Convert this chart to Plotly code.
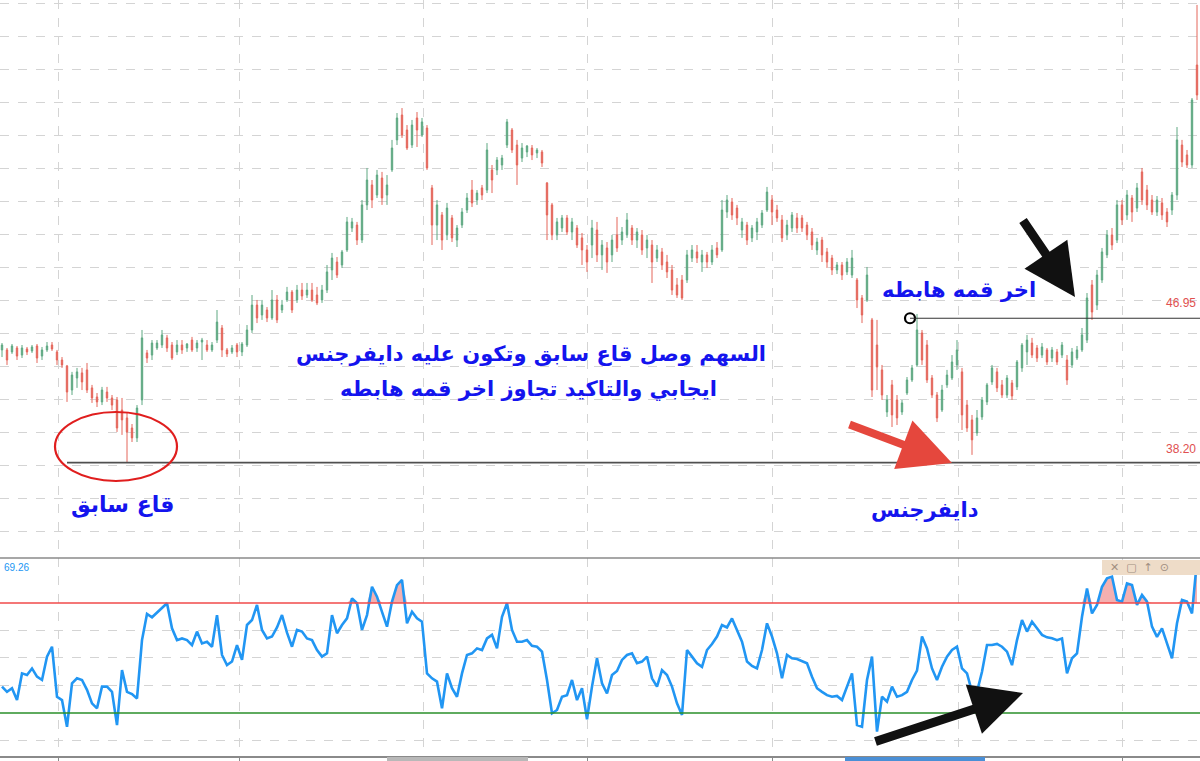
import plotly.graph_objects as go
import numpy as np

W, H = 1200, 761

# ---------------- data ----------------
opens = [
45.03, 45.03, 44.91, 45.15, 44.72, 45.09, 44.97, 45.27, 44.66, 45.03,
45.33, 44.91, 44.42, 44.06, 42.60, 43.33, 43.64, 43.82, 42.73, 42.18,
41.88, 42.48, 42.12, 42.00, 41.39, 40.91, 40.30, 39.70, 42.00, 44.85,
44.72, 45.15, 45.33, 45.76, 45.33, 44.91, 45.33, 45.15, 45.63, 45.15,
45.51, 45.33, 45.03, 45.63, 46.36, 45.03, 44.91, 45.33, 44.91, 45.33,
46.24, 47.75, 47.15, 47.45, 46.97, 48.06, 47.45, 48.06, 48.54, 48.06,
48.66, 48.36, 48.66, 48.36, 48.06, 48.66, 49.88, 50.36, 50.18, 51.09,
52.42, 52.60, 51.69, 53.82, 55.03, 54.42, 55.45, 54.42, 55.94, 57.76,
59.27, 58.36, 57.45, 59.09, 58.06, 58.48, 54.85, 52.60, 53.21, 52.00,
53.03, 51.69, 52.60, 53.51, 54.72, 54.12, 54.85, 54.72, 55.94, 55.94,
56.24, 57.45, 58.36, 57.45, 56.66, 57.03, 57.27, 56.97, 57.03, 55.15,
53.82, 52.00, 52.42, 53.03, 52.18, 52.42, 51.82, 51.09, 51.39, 52.30,
50.79, 51.21, 50.79, 52.00, 51.69, 52.00, 52.42, 51.69, 52.00, 51.21,
51.39, 50.60, 50.97, 50.36, 49.88, 48.97, 49.27, 49.27, 50.60, 50.97,
50.36, 50.79, 50.36, 51.21, 51.09, 53.39, 54.00, 53.63, 52.30, 52.60,
51.82, 52.18, 52.60, 53.51, 54.12, 53.51, 52.91, 52.00, 52.42, 53.03,
53.03, 52.60, 52.18, 51.09, 51.69, 50.97, 50.60, 49.88, 50.18, 49.76,
49.57, 49.27, 48.18, 48.06, 46.85, 45.33, 43.82, 41.27, 42.91, 42.00,
41.27, 42.42, 43.21, 44.12, 46.06, 45.33, 43.33, 42.30, 41.39, 42.91,
43.33, 44.12, 43.70, 41.69, 40.79, 40.00, 40.97, 41.88, 43.09, 43.70,
42.91, 42.30, 43.03, 42.79, 43.94, 44.91, 45.45, 45.15, 44.72, 45.03,
44.54, 44.91, 44.72, 44.42, 44.12, 44.54, 45.03, 45.63, 48.97, 47.75,
49.27, 50.79, 52.00, 51.69, 53.82, 53.21, 54.24, 53.63, 55.82, 54.72,
54.12, 53.39, 53.94, 53.39, 53.51, 54.42, 57.45, 56.85, 56.24, 62.30,
]
highs = [
45.45, 45.15, 45.39, 45.27, 45.33, 45.21, 45.33, 45.39, 45.21, 45.51,
45.51, 45.03, 44.60, 44.12, 43.70, 43.94, 43.94, 44.24, 42.91, 42.42,
42.79, 42.79, 42.30, 42.18, 42.12, 41.27, 40.54, 41.69, 46.24, 45.03,
45.63, 45.63, 46.24, 45.94, 45.51, 45.63, 45.63, 45.45, 45.82, 45.63,
45.76, 45.63, 45.51, 47.45, 46.54, 45.15, 45.33, 45.45, 45.51, 46.54,
48.36, 48.06, 48.06, 47.63, 48.66, 48.36, 48.06, 48.85, 48.66, 48.97,
49.09, 49.09, 49.09, 48.85, 48.97, 50.18, 50.91, 50.66, 51.09, 53.09,
53.03, 52.79, 54.12, 56.06, 55.33, 55.94, 55.82, 55.63, 57.76, 59.39,
59.69, 58.66, 58.97, 59.45, 59.09, 58.66, 55.03, 54.12, 53.39, 53.94,
53.21, 52.60, 53.63, 54.54, 55.33, 54.72, 55.03, 57.57, 56.24, 56.72,
56.85, 59.03, 58.48, 57.76, 57.57, 57.45, 57.45, 57.27, 57.15, 55.21,
53.94, 53.03, 53.21, 53.21, 53.03, 52.60, 52.12, 51.39, 52.91, 52.79,
51.69, 51.57, 52.00, 53.09, 52.48, 53.33, 52.60, 52.42, 52.30, 52.00,
51.69, 51.39, 51.21, 50.79, 50.18, 49.39, 49.57, 51.09, 51.39, 51.39,
51.09, 50.97, 51.39, 51.57, 54.12, 54.42, 54.24, 53.82, 53.03, 52.79,
52.60, 53.03, 53.51, 54.91, 54.42, 53.82, 53.21, 52.91, 53.39, 53.33,
53.21, 52.79, 52.42, 51.82, 51.88, 51.21, 50.79, 50.36, 50.36, 50.60,
51.09, 49.39, 48.36, 50.06, 46.97, 46.85, 44.12, 42.30, 43.21, 42.30,
42.00, 43.39, 44.12, 47.21, 46.24, 45.63, 43.51, 42.48, 42.91, 43.82,
44.72, 45.63, 43.94, 42.00, 41.09, 41.39, 42.18, 43.03, 44.12, 43.94,
43.21, 43.51, 43.21, 44.42, 45.45, 45.94, 45.76, 45.33, 45.45, 45.15,
45.21, 45.09, 45.51, 44.72, 45.15, 45.27, 46.36, 48.48, 49.27, 49.88,
51.21, 52.30, 52.42, 54.12, 54.12, 54.72, 54.42, 55.15, 56.06, 55.03,
54.42, 54.36, 54.24, 53.63, 54.60, 58.54, 57.76, 57.15, 60.30, 65.94,
]
lows = [
44.60, 44.12, 44.79, 44.42, 44.54, 44.72, 44.85, 44.24, 44.42, 44.91,
44.97, 44.12, 43.94, 41.88, 42.30, 42.73, 42.60, 42.42, 41.82, 41.57,
41.69, 41.88, 41.39, 40.06, 39.88, 38.18, 39.45, 39.45, 41.69, 44.24,
44.42, 45.03, 45.15, 44.91, 44.42, 44.72, 44.79, 44.91, 44.91, 44.91,
44.42, 44.91, 44.91, 45.45, 44.60, 44.60, 44.79, 44.60, 44.66, 45.21,
46.06, 46.66, 46.85, 46.72, 46.85, 46.66, 47.27, 47.94, 47.27, 47.88,
48.06, 48.18, 47.94, 47.75, 47.88, 48.48, 49.27, 49.39, 50.00, 50.97,
52.18, 51.39, 51.51, 53.51, 53.63, 54.24, 53.82, 53.82, 55.82, 57.45,
57.88, 57.15, 57.27, 57.33, 57.94, 55.94, 51.39, 51.69, 51.09, 51.69,
51.57, 51.27, 52.42, 53.33, 53.69, 53.82, 54.12, 54.54, 54.54, 55.63,
55.94, 57.27, 56.97, 55.03, 56.42, 56.72, 56.54, 56.66, 56.12, 51.69,
51.69, 51.69, 52.18, 52.00, 51.69, 51.21, 50.18, 49.76, 50.60, 50.36,
49.88, 49.70, 50.36, 50.97, 51.39, 51.82, 51.39, 51.21, 50.79, 50.60,
49.09, 50.36, 49.88, 49.39, 48.36, 48.18, 48.06, 49.09, 50.36, 50.30,
49.76, 50.00, 50.18, 50.60, 50.97, 53.03, 52.91, 52.60, 51.82, 51.39,
51.57, 51.69, 52.42, 53.39, 52.60, 52.79, 51.57, 51.69, 52.18, 52.12,
52.18, 51.69, 51.09, 50.79, 50.36, 50.00, 49.57, 49.63, 49.27, 49.57,
49.39, 47.57, 46.66, 47.94, 42.18, 42.60, 42.00, 40.97, 40.36, 40.48,
41.09, 42.30, 43.09, 44.00, 44.12, 43.03, 42.12, 40.66, 41.27, 42.73,
43.21, 43.82, 40.18, 40.06, 38.67, 39.82, 40.79, 41.69, 42.91, 42.48,
42.12, 42.12, 42.00, 42.60, 43.70, 44.12, 44.54, 44.30, 44.54, 44.12,
44.30, 44.12, 44.54, 42.91, 43.94, 44.42, 44.91, 45.45, 46.85, 47.45,
49.09, 50.60, 51.09, 51.51, 52.60, 52.91, 52.79, 53.39, 53.82, 53.51,
53.21, 53.15, 52.91, 52.48, 53.21, 54.12, 56.12, 56.06, 56.06, 60.18,
]
closes = [
45.33, 44.42, 45.27, 44.66, 45.15, 44.91, 45.21, 44.54, 45.03, 45.27,
45.09, 44.42, 44.12, 42.48, 43.51, 43.70, 43.09, 42.60, 42.12, 41.88,
42.60, 42.12, 41.69, 40.30, 40.79, 40.06, 39.70, 41.51, 45.76, 44.54,
45.45, 45.45, 45.94, 45.15, 44.54, 45.33, 45.03, 45.39, 45.03, 45.45,
45.63, 45.03, 45.33, 46.72, 45.03, 44.79, 45.15, 44.91, 45.39, 46.24,
47.75, 46.97, 47.75, 46.97, 48.06, 46.85, 47.75, 48.54, 47.45, 48.66,
48.30, 48.66, 48.06, 47.88, 48.66, 49.76, 50.60, 49.57, 50.97, 52.79,
52.79, 51.69, 53.82, 55.33, 54.12, 55.63, 54.24, 55.03, 57.27, 59.09,
58.06, 57.27, 58.66, 58.36, 58.85, 56.06, 52.60, 53.82, 51.69, 53.63,
51.82, 52.42, 53.39, 54.24, 53.94, 54.54, 54.42, 57.15, 55.33, 56.54,
56.66, 58.85, 57.15, 56.24, 57.27, 57.39, 56.85, 57.15, 56.36, 53.21,
52.00, 52.79, 53.03, 52.18, 52.79, 51.39, 51.09, 50.36, 52.42, 50.79,
51.39, 50.36, 51.69, 51.21, 52.18, 52.91, 51.69, 52.18, 51.09, 51.69,
50.36, 51.09, 50.18, 49.76, 48.66, 48.36, 48.18, 50.79, 51.09, 50.60,
50.79, 50.36, 51.09, 50.79, 53.51, 54.12, 53.21, 53.03, 52.79, 51.69,
52.42, 52.79, 53.33, 54.60, 53.39, 53.03, 51.82, 52.60, 53.21, 52.42,
52.42, 52.00, 51.39, 51.57, 50.79, 50.36, 49.88, 50.18, 49.57, 50.36,
50.60, 48.06, 47.15, 49.57, 42.60, 44.00, 42.30, 42.00, 41.09, 40.91,
41.82, 43.21, 43.94, 46.24, 44.42, 43.21, 42.30, 40.91, 42.60, 43.51,
44.30, 45.03, 41.09, 40.30, 39.58, 40.91, 42.00, 42.91, 43.94, 42.73,
42.30, 43.33, 42.24, 44.30, 45.33, 45.63, 44.72, 44.54, 45.21, 44.30,
45.03, 44.30, 45.33, 43.21, 44.91, 45.03, 45.94, 48.18, 47.33, 49.57,
50.97, 52.00, 51.39, 53.82, 52.91, 54.42, 53.39, 54.85, 54.12, 53.82,
53.39, 54.12, 53.21, 52.79, 54.42, 57.76, 56.42, 56.24, 60.18, 60.48,
]
rsi = [
39.6, 37.7, 39.0, 34.7, 44.4, 43.8, 46.2, 43.2, 42.0, 50.5,
54.1, 35.9, 34.7, 25.0, 40.8, 42.6, 42.0, 38.4, 33.5, 31.7,
39.6, 39.6, 37.7, 25.6, 45.6, 37.7, 36.9, 35.3, 56.5, 66.0,
64.8, 66.5, 68.1, 69.9, 60.8, 56.5, 57.1, 56.5, 54.7, 59.6,
55.3, 55.9, 54.1, 65.6, 51.1, 47.4, 48.7, 54.7, 49.3, 62.0,
63.8, 69.3, 60.2, 57.1, 57.8, 61.1, 65.6, 59.2, 54.1, 60.2,
59.6, 57.1, 56.5, 52.9, 50.5, 51.7, 65.6, 59.0, 62.0, 64.4,
71.7, 69.9, 60.2, 65.6, 75.9, 72.3, 66.8, 61.4, 70.5, 76.5,
78.4, 62.6, 66.8, 64.4, 63.2, 44.4, 42.6, 41.4, 31.7, 44.4,
39.0, 35.9, 44.4, 51.1, 51.7, 53.5, 52.9, 57.1, 58.4, 53.5,
65.0, 69.9, 60.2, 55.9, 55.9, 56.5, 54.4, 54.1, 52.3, 42.0,
29.9, 31.1, 35.9, 36.5, 42.0, 34.7, 39.0, 27.7, 39.6, 49.9,
40.8, 37.1, 43.8, 45.3, 49.3, 51.1, 51.7, 48.1, 48.7, 50.5,
42.6, 39.6, 45.6, 43.8, 39.6, 33.5, 29.3, 52.9, 50.5, 48.1,
46.8, 52.9, 55.1, 57.8, 62.0, 61.1, 64.4, 59.9, 55.9, 48.7,
47.1, 46.2, 52.9, 62.6, 57.8, 51.7, 42.6, 51.1, 49.9, 49.6,
48.9, 48.1, 43.2, 39.0, 37.7, 36.5, 35.9, 36.2, 34.7, 39.6,
44.4, 25.6, 25.0, 42.0, 50.5, 23.2, 35.9, 34.1, 39.6, 35.9,
36.5, 37.7, 42.0, 45.4, 57.8, 53.5, 46.2, 42.0, 46.8, 50.5,
52.9, 54.1, 46.2, 44.4, 37.7, 37.7, 45.0, 54.7, 54.7, 55.1,
54.1, 52.3, 47.4, 56.5, 63.8, 59.6, 63.2, 60.8, 58.4, 57.5,
57.2, 56.5, 57.1, 44.4, 49.9, 51.7, 65.0, 75.3, 66.2, 69.3,
75.9, 79.0, 79.6, 71.1, 70.5, 77.1, 76.5, 69.3, 72.9, 70.5,
61.4, 57.7, 60.8, 55.3, 49.9, 62.6, 71.1, 70.5, 66.2, 85.6,
]
sessions = list(range(len(closes)))
month_ticks = [11.2, 47.4, 84.2, 117.0, 154.0, 191.2, 224.0]

support_level = 38.20          # previous bottom
support_start = 13
last_peak_level = 46.95        # last descending peak
last_peak_session = 181.6
rsi_upper, rsi_lower = 70, 30
rsi_value_text = "69.26"

txt_prev_low = "قاع سابق"
txt_main_1 = "السهم وصل قاع سابق وتكون عليه دايفرجنس"
txt_main_2 = "ايجابي والتاكيد تجاوز اخر قمه هابطه"
txt_last_peak = "اخر قمه هابطه"
txt_div = "دايفرجنس"

# ---------------- styling ----------------
UP = "#5ea882"
DOWN = "#e4665a"
GRID = "#d4d4d4"
BLUE_TXT = "#1414ee"
RSI_COL = "#2196f3"
FONT = "DejaVu Sans"

def PX(x):
    return x / W

def PY(y):
    return 1 - y / H

top_bottom = 558
rsi_bottom = 756
y_top_price, y_bot_price = 66.24, 32.42
rsi_top, rsi_bot = 86.36, 14.36
xr = [-0.4, 239.6]

fig = go.Figure()

fig.add_trace(go.Candlestick(
    x=sessions, open=opens, high=highs, low=lows, close=closes,
    increasing=dict(line=dict(color=UP, width=1), fillcolor=UP),
    decreasing=dict(line=dict(color=DOWN, width=1), fillcolor=DOWN),
    whiskerwidth=0, xaxis="x", yaxis="y", hoverinfo="skip", showlegend=False))

# last descending peak marker
fig.add_trace(go.Scatter(
    x=[last_peak_session], y=[last_peak_level], mode="markers",
    marker=dict(symbol="circle", size=10, color="white", line=dict(color="black", width=2.2)),
    xaxis="x", yaxis="y", hoverinfo="skip", showlegend=False))

# RSI overbought fill
rsi_arr = np.array(rsi)
fig.add_trace(go.Scatter(x=sessions, y=[rsi_upper] * len(rsi), mode="lines",
                         line=dict(width=0, color="rgba(0,0,0,0)"),
                         xaxis="x2", yaxis="y2", hoverinfo="skip", showlegend=False))
fig.add_trace(go.Scatter(x=sessions, y=np.maximum(rsi_arr, rsi_upper), mode="lines",
                         line=dict(width=0, color="rgba(0,0,0,0)"), fill="tonexty",
                         fillcolor="rgba(240,150,150,0.75)",
                         xaxis="x2", yaxis="y2", hoverinfo="skip", showlegend=False))
fig.add_trace(go.Scatter(x=sessions, y=rsi, mode="lines",
                         line=dict(color=RSI_COL, width=2.6),
                         xaxis="x2", yaxis="y2", hoverinfo="skip", showlegend=False))

shapes = [
    dict(type="line", xref="x", yref="y", x0=support_start, x1=xr[1], y0=support_level, y1=support_level,
         line=dict(color="#505050", width=1.6)),
    dict(type="line", xref="x", yref="y", x0=last_peak_session, x1=xr[1], y0=last_peak_level, y1=last_peak_level,
         line=dict(color="#333333", width=1.2)),
    dict(type="line", xref="x2", yref="y2", x0=xr[0], x1=xr[1], y0=rsi_upper, y1=rsi_upper,
         line=dict(color="#f04a4a", width=1.6)),
    dict(type="line", xref="x2", yref="y2", x0=xr[0], x1=xr[1], y0=rsi_lower, y1=rsi_lower,
         line=dict(color="#2a8f2a", width=1.6)),
    dict(type="circle", xref="paper", yref="paper", x0=PX(55), x1=PX(177), y0=PY(481), y1=PY(412),
         line=dict(color="#e01e1e", width=2.2)),
    dict(type="line", xref="paper", yref="paper", x0=0, x1=1, y0=PY(top_bottom), y1=PY(top_bottom),
         line=dict(color="#8a8a8a", width=1.5)),
    dict(type="rect", xref="paper", yref="paper", x0=PX(1102), x1=PX(1200), y0=PY(575), y1=PY(560),
         line=dict(width=0), fillcolor="#eedcc8"),
    dict(type="rect", xref="paper", yref="paper", x0=PX(387), x1=PX(528), y0=0, y1=PY(757),
         line=dict(width=0), fillcolor="#b8b8b8"),
    dict(type="rect", xref="paper", yref="paper", x0=PX(845), x1=PX(985), y0=0, y1=PY(757),
         line=dict(width=0), fillcolor="#4a8fd6"),
]

def label(text, x, y, size, color=BLUE_TXT, family=FONT, xanchor="center", bold=True):
    return dict(text=f"<b>{text}</b>" if bold else text, x=PX(x), y=PY(y), xref="paper", yref="paper",
                showarrow=False, font=dict(family=family, size=size, color=color),
                xanchor=xanchor, yanchor="middle")

annotations = [
    label(txt_prev_low, 122, 505, 22),
    label(txt_main_1, 531, 354, 21),
    label(txt_main_2, 528, 389, 21),
    label(txt_last_peak, 959, 290, 21),
    label(txt_div, 925, 510, 21),
    label(f"{last_peak_level:.2f}", 1198, 303, 12, color="#e05050", family="Liberation Sans",
          xanchor="right", bold=False),
    label(f"{support_level:.2f}", 1198, 449, 12, color="#e05050", family="Liberation Sans",
          xanchor="right", bold=False),
    label(rsi_value_text, 2, 567, 10, color=RSI_COL, family="Liberation Sans", xanchor="left", bold=False),
    label("✕  ▢  ↑  ⊙", 1108, 567, 11, color="#a08e80", family="DejaVu Sans", xanchor="left", bold=False),
    # arrows
    dict(text="", x=PX(952), y=PY(463), xref="paper", yref="paper", ax=-104, ay=-39,
         showarrow=True, arrowhead=2, arrowsize=1.3, arrowwidth=8, arrowcolor="#e5473d"),
    dict(text="", x=PX(1075), y=PY(297), xref="paper", yref="paper", ax=-53, ay=-78,
         showarrow=True, arrowhead=2, arrowsize=1.15, arrowwidth=9, arrowcolor="#111111"),
    dict(text="", x=PX(1023), y=PY(693), xref="paper", yref="paper", ax=-149, ay=49,
         showarrow=True, arrowhead=2, arrowsize=1.15, arrowwidth=9, arrowcolor="#111111"),
]

fig.update_layout(
    width=W, height=H, margin=dict(l=0, r=0, t=0, b=0),
    paper_bgcolor="white", plot_bgcolor="white", showlegend=False, boxgap=0.6,
    xaxis=dict(domain=[0, 1], anchor="y", range=xr, rangeslider=dict(visible=False),
               tickvals=month_ticks, showticklabels=False, showgrid=True, gridcolor=GRID,
               griddash="dash", zeroline=False, ticks=""),
    yaxis=dict(domain=[PY(top_bottom), 1], anchor="x", range=[y_bot_price, y_top_price],
               tick0=0, dtick=2, showticklabels=False, showgrid=True, gridcolor=GRID,
               griddash="dash", zeroline=False, ticks=""),
    xaxis2=dict(domain=[0, 1], anchor="y2", range=xr, tickvals=month_ticks, showticklabels=False,
                showgrid=True, gridcolor=GRID, griddash="dash", zeroline=False,
                showline=True, linecolor="#8a8a8a", linewidth=1.5, mirror=False,
                ticks="outside", ticklen=4, tickcolor="#8a8a8a"),
    yaxis2=dict(domain=[PY(rsi_bottom), PY(top_bottom)], anchor="x2", range=[rsi_bot, rsi_top],
                tickvals=[20, 40, 50, 60], showticklabels=False, showgrid=True, gridcolor=GRID,
                griddash="dash", zeroline=False, ticks=""),
    shapes=shapes, annotations=annotations,
)

fig.write_html("out.html", config=dict(displayModeBar=False),
               post_script="document.body.style.margin='0';document.body.style.overflow='hidden';")
